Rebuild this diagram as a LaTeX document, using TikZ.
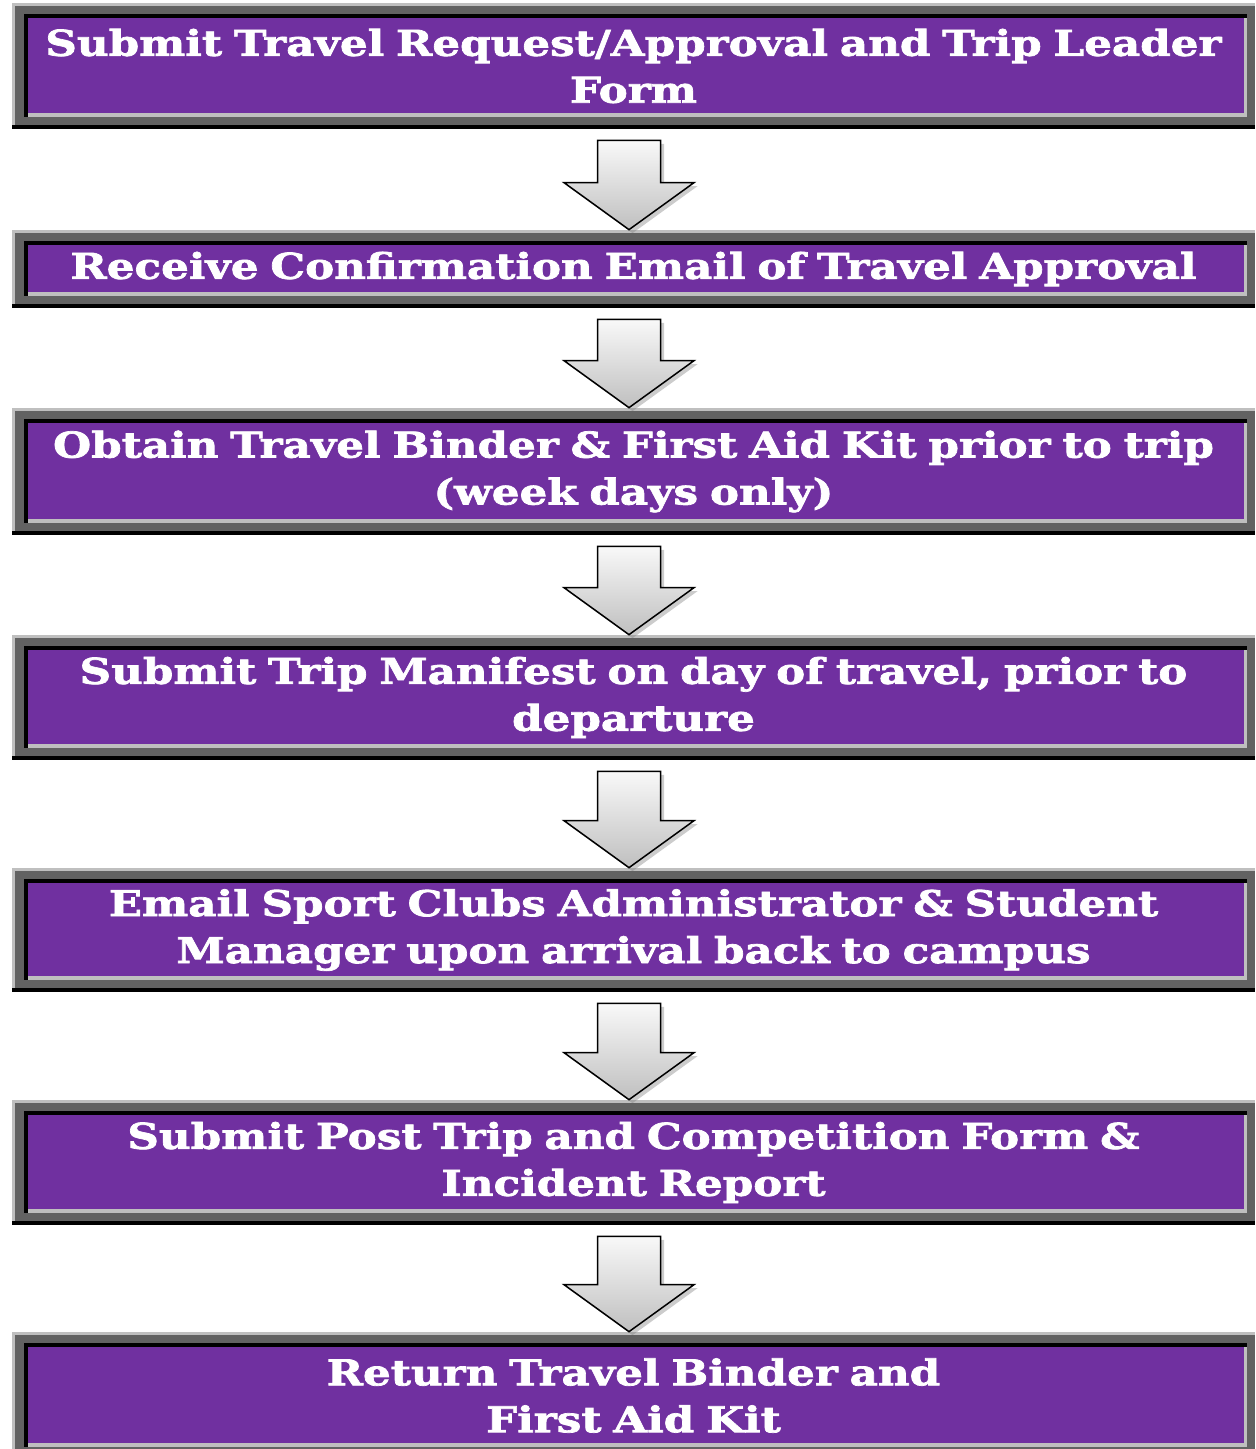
\documentclass[tikz,border=0pt]{standalone}
\usepackage{fontspec}
\usetikzlibrary{calc,shadows}
\newfontfamily\stepfont{DejaVu Serif}[FakeStretch=1.23, BoldFeatures={FakeBold=2}]
\newcommand{\boxfont}{\stepfont\bfseries\fontsize{20.2pt}{26.7pt}\selectfont}
\def\px{0.02cm}
\definecolor{boxpurple}{HTML}{7030A0}
\definecolor{framegray}{HTML}{626262}
\definecolor{framelight}{HTML}{BFBFBF}
\tikzset{
	framed/.style={minimum width=1243*\px, minimum height=#1*\px, inner sep=0pt,
		fill=framegray, text=white, font=\boxfont, align=center, text width=1210*\px,
		path picture={
			\coordinate (nw) at (path picture bounding box.north west);
			\coordinate (se) at (path picture bounding box.south east);
			\fill[framelight] (nw) rectangle ($(se -| nw)+(3,0)$);
			\fill[framelight] (nw) rectangle ($(nw -| se)+(0,3)$);
			\fill[black] ($(se -| nw)+(0,-4)$) rectangle (se);
			\fill[black] ($(nw)+(11.5,11)$) rectangle ($(se)+(-8,-12)$);
			\fill[framelight] ($(nw)+(15.5,15)$) rectangle ($(se)+(-8,-12)$);
			\fill[boxpurple] ($(nw)+(15.5,15)$) rectangle ($(se)+(-11,-16)$);
		}},
	blockarrow/.style={draw=black, line width=1.5*\px, line join=miter,
		top color=white!95!gray, bottom color=black!25,
		drop shadow={shadow xshift=2pt, shadow yshift=-2pt, opacity=0.4}}
}
\newcommand{\flowarrow}[2]{%
	\draw[blockarrow] ($(#1.south)+(-36,11)$) -- ($(#1.south)+(27,11)$)
		-- ($(#2.north)+(27,-47)$) -- ($(#2.north)+(60.5,-47)$)
		-- ($(#2.north)+(-4.5,0)$) -- ($(#2.north)+(-69.5,-47)$)
		-- ($(#2.north)+(-36,-47)$) -- cycle;}

\begin{document}
\begin{tikzpicture}[x=0.02cm,y=-0.02cm]
	\useasboundingbox (0,0) rectangle (1255,1449);
	\node[framed=126] (b1) at (633.5,66) {Submit Travel Request/Approval and Trip Leader\\Form};
	\node[framed=78] (b2) at (633.5,269) {Receive Confirmation Email of Travel Approval};
	\node[framed=127] (b3) at (633.5,471.5) {Obtain Travel Binder \& First Aid Kit prior to trip\\(week days only)};
	\node[framed=125] (b4) at (633.5,697.5) {Submit Trip Manifest on day of travel, prior to\\departure};
	\node[framed=124] (b5) at (633.5,930) {Email Sport Clubs Administrator \& Student\\Manager upon arrival back to campus};
	\node[framed=125] (b6) at (633.5,1162.5) {Submit Post Trip and Competition Form \&\\Incident Report};
	\node[framed=127] (b7) at (633.5,1395.5) {Return Travel Binder and\\First Aid Kit};
	\flowarrow{b1}{b2}
	\flowarrow{b2}{b3}
	\flowarrow{b3}{b4}
	\flowarrow{b4}{b5}
	\flowarrow{b5}{b6}
	\flowarrow{b6}{b7}
\end{tikzpicture}
\end{document}
